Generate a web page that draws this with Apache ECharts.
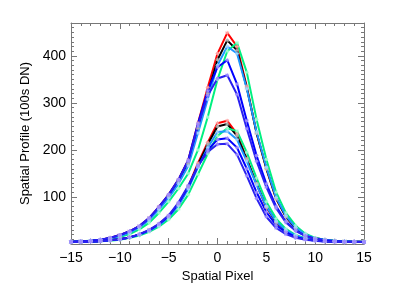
<!DOCTYPE html>
<html><head><meta charset="utf-8">
<script src="https://cdn.jsdelivr.net/npm/echarts@6/dist/echarts.min.js"></script>
<style>html,body{margin:0;padding:0;background:#fff}#c{width:395px;height:291px}</style>
</head><body><div id="c"></div>
<script>
// x positions (spatial pixel)
var pixels = [-15,-14,-13,-12,-11,-10,-9,-8,-7,-6,-5,-4,-3,-2,-1,0,1,2,3,4,5,6,7,8,9,10,11,12,13,14,15];
// bright group
var redHigh   = [5,6,7,9,13,19,27,38,55,79,105,137,178,257,333,405,449,420,335,236,160,96,58,34,19,12,9,7,6,5,5];
var blackHigh = [5,6,7,9,12,18,26,37,53,76,101,132,171,246,320,392,433,412,332,236,161,97,58,34,19,12,9,7,6,5,5];
var greenHigh = [5,6,7,8,11,15,21,31,45,66,90,118,150,200,270,350,410,428,365,265,180,110,66,39,22,13,9,7,6,5,5];
var cyanHigh  = [5,6,7,9,12,17,24,35,51,73,98,128,166,236,308,380,420,405,330,238,163,99,60,35,20,12,9,7,6,5,5];
var blueHigh1 = [5,6,7,9,13,19,27,38,55,79,105,137,178,256,326,376,391,340,262,188,128,80,48,29,17,11,8,6,5,5,4];
var blueHigh2 = [5,6,7,9,13,19,27,38,55,78,104,136,176,251,316,352,359,318,245,176,121,76,46,28,17,11,8,6,5,5,4];
// faint group
var redLow    = [4,4,5,6,8,10,14,20,29,42,60,85,122,172,216,257,262,234,181,128,78,46,28,17,11,8,6,5,4,4,4];
var blackLow  = [4,4,5,6,8,10,14,20,29,41,58,83,120,168,212,250,255,230,180,128,80,47,28,17,11,8,6,5,4,4,4];
var greenLow  = [4,4,5,6,7,9,13,18,26,37,52,74,105,148,192,230,246,240,195,140,90,54,32,19,12,8,6,5,4,4,4];
var cyanLow   = [4,4,5,6,8,10,14,20,28,40,57,81,117,163,205,238,240,222,176,126,80,48,29,18,11,8,6,5,4,4,4];
var blueLow1  = [4,4,5,6,8,10,14,20,29,42,59,86,121,166,200,222,225,205,160,110,68,40,25,15,10,7,6,5,4,4,4];
var blueLow2  = [4,4,5,6,8,10,14,21,30,43,61,88,124,166,196,212,213,190,145,97,58,34,21,13,9,7,5,4,4,4,4];
var xTicks = [-15,-10,-5,0,5,10,15];
var yTicks = [100,200,300,400];

var curves = [
  [redHigh,'#ff0000','#ffa0a0'],[blackHigh,'#000000','#b0b0b0'],[greenHigh,'#00f080','#a0ffcc'],
  [cyanHigh,'#1e96ff','#a0d4ff'],[redLow,'#ff0000','#ffa0a0'],[blackLow,'#000000','#b0b0b0'],
  [greenLow,'#00f080','#a0ffcc'],[cyanLow,'#1e96ff','#a0d4ff'],
  [blueHigh1,'#0000ff','#9d8cff'],[blueHigh2,'#2a20f0','#9d8cff'],[blueLow1,'#0000ff','#9d8cff'],[blueLow2,'#2a20f0','#9d8cff']
];
var star = 'path://M0,5L10,5M5,0L5,10M1.5,1.5L8.5,8.5M8.5,1.5L1.5,8.5';
var series = curves.map(function(c){
  return {type:'line', data: pixels.map(function(x,i){return [x,c[0][i]];}),
    symbol: star, symbolSize: 4, showSymbol:true,
    itemStyle:{color:'rgba(0,0,0,0)', borderColor:c[2], borderWidth:1, opacity:0.9},
    lineStyle:{color:c[1], width:2}, animation:false, silent:true, z:2};
});
var fam = 'Liberation Sans';
var axisCol = '#777';
var option = {
  backgroundColor:'#fff',
  grid:{left:71, right:31, top:23, bottom:47},
  xAxis:[{type:'value', min:-15, max:15, interval:5, position:'bottom',
    name:'Spatial Pixel', nameLocation:'middle', nameGap:23,
    nameTextStyle:{fontFamily:fam, fontSize:13, color:'#000'},
    axisLine:{onZero:false, lineStyle:{color:axisCol}}, splitLine:{show:false},
    axisTick:{inside:true, length:6, lineStyle:{color:axisCol}},
    minorTick:{show:true, splitNumber:5, length:3, lineStyle:{color:axisCol}},
    axisLabel:{margin:7, fontFamily:fam, fontSize:14, color:'#000',
      formatter:function(v){return xTicks.indexOf(v)>=0 ? String(v).replace('-','\u2212') : '';}}},
    {type:'value', min:-15, max:15, interval:5, position:'top',
    axisLine:{onZero:false, lineStyle:{color:axisCol}}, splitLine:{show:false}, axisLabel:{show:false},
    axisTick:{inside:true, length:6, lineStyle:{color:axisCol}},
    minorTick:{show:true, splitNumber:5, length:3, lineStyle:{color:axisCol}}}],
  yAxis:[{type:'value', min:0, max:470, interval:100, position:'left',
    name:'Spatial Profile (100s DN)', nameLocation:'middle', nameGap:33,
    nameTextStyle:{fontFamily:fam, fontSize:13, color:'#000'},
    axisLine:{show:true, onZero:false, lineStyle:{color:axisCol}}, splitLine:{show:false},
    axisTick:{show:true, inside:true, length:6, lineStyle:{color:axisCol}},
    minorTick:{show:true, splitNumber:10, length:3, lineStyle:{color:axisCol}},
    axisLabel:{margin:5, fontFamily:fam, fontSize:14, color:'#000',
      formatter:function(v){return yTicks.indexOf(v)>=0 ? String(v) : '';}}},
    {type:'value', min:0, max:470, interval:100, position:'right',
    axisLine:{show:true, onZero:false, lineStyle:{color:axisCol}}, splitLine:{show:false}, axisLabel:{show:false},
    axisTick:{show:true, inside:true, length:6, lineStyle:{color:axisCol}},
    minorTick:{show:true, splitNumber:10, length:3, lineStyle:{color:axisCol}}}],
  series: series
};
var chart = echarts.init(document.getElementById('c'), null, {renderer:'canvas'});
chart.setOption(option);
</script></body></html>
